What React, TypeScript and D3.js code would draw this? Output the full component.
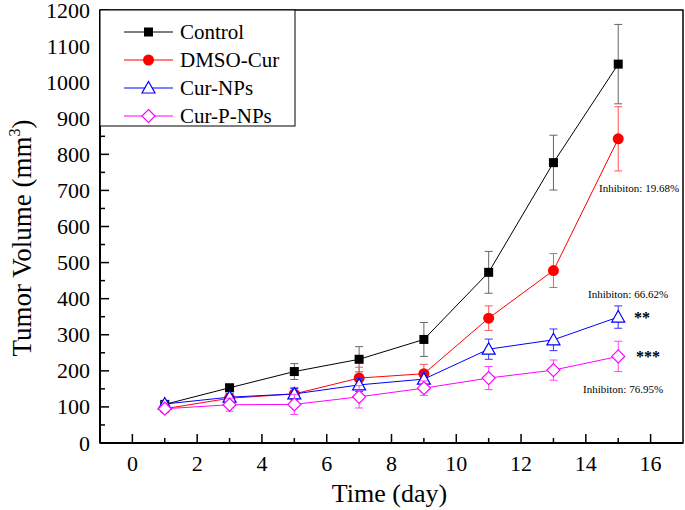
import React, { useEffect, useRef } from 'react';
import * as d3 from 'd3';

const days = [1, 3, 5, 7, 9, 11, 13, 15];
const controlVals = [107, 153, 198, 232, 287, 473, 777, 1050];
const controlErr = [8, 10, 22, 35, 47, 58, 76, 110];
const dmsoVals = [95, 124, 136, 180, 192, 346, 478, 843];
const dmsoErr = [8, 10, 18, 30, 26, 34, 47, 89];
const npsVals = [108, 127, 136, 161, 177, 260, 286, 349];
const npsErr = [8, 10, 15, 18, 20, 28, 30, 31];
const pnpsVals = [95, 106, 107, 128, 152, 180, 202, 240];
const pnpsErr = [8, 18, 28, 31, 20, 32, 28, 42];
const seriesNames = ['Control', 'DMSO-Cur', 'Cur-NPs', 'Cur-P-NPs'];
const xTicks = [0, 2, 4, 6, 8, 10, 12, 14, 16];
const yTicks = [0, 100, 200, 300, 400, 500, 600, 700, 800, 900, 1000, 1100, 1200];

const W = 685;
const H = 510;
const FONT = '"Liberation Serif", "Times New Roman", serif';

const App = () => {
  const ref = useRef<SVGSVGElement>(null);

  useEffect(() => {
    const svg = d3.select(ref.current);
    svg.selectAll('*').remove();

    const left = 100, right = 683, top = 10, bottom = 443;
    const x = d3.scaleLinear().domain([-1, 17]).range([left, right]);
    const y = d3.scaleLinear().domain([0, 1200]).range([bottom, top]);

    const series = [
      { name: seriesNames[0], vals: controlVals, err: controlErr, color: '#000000', errColor: '#666666', shape: 'square' },
      { name: seriesNames[1], vals: dmsoVals, err: dmsoErr, color: '#ff0000', errColor: '#ff5555', shape: 'circle' },
      { name: seriesNames[2], vals: npsVals, err: npsErr, color: '#0000ff', errColor: '#3333ff', shape: 'triangle' },
      { name: seriesNames[3], vals: pnpsVals, err: pnpsErr, color: '#ff00ff', errColor: '#ff44ff', shape: 'diamond' },
    ];

    // frame
    svg.append('rect')
      .attr('x', left).attr('y', top)
      .attr('width', right - left).attr('height', bottom - top)
      .attr('fill', 'none').attr('stroke', '#000').attr('stroke-width', 1.5);
    svg.append('line').attr('x1', left).attr('x2', right).attr('y1', bottom).attr('y2', bottom)
      .attr('stroke', '#000').attr('stroke-width', 2);
    svg.append('line').attr('x1', left).attr('x2', left).attr('y1', top).attr('y2', bottom)
      .attr('stroke', '#000').attr('stroke-width', 2);

    // x ticks (inward)
    const xMinor = d3.range(0, 17, 1);
    svg.selectAll('.xt').data(xMinor).join('line')
      .attr('x1', d => x(d)).attr('x2', d => x(d))
      .attr('y1', bottom).attr('y2', d => bottom - (d % 2 === 0 ? 9 : 5))
      .attr('stroke', '#000').attr('stroke-width', 1.5);
    svg.selectAll('.xl').data(xTicks).join('text')
      .attr('x', d => x(d)).attr('y', 471)
      .attr('text-anchor', 'middle')
      .attr('font-family', FONT).attr('font-size', 22)
      .text(d => d);

    // y ticks (inward)
    const yMinor = d3.range(0, 1201, 50);
    svg.selectAll('.yt').data(yMinor).join('line')
      .attr('x1', left).attr('x2', d => left + (d % 100 === 0 ? 9 : 5))
      .attr('y1', d => y(d)).attr('y2', d => y(d))
      .attr('stroke', '#000').attr('stroke-width', 1.5);
    svg.selectAll('.yl').data(yTicks).join('text')
      .attr('x', 90).attr('y', d => y(d) + 7.5)
      .attr('text-anchor', 'end')
      .attr('font-family', FONT).attr('font-size', 22)
      .text(d => d);

    // axis titles
    svg.append('text')
      .attr('x', (left + right) / 2 - 2).attr('y', 502)
      .attr('text-anchor', 'middle')
      .attr('font-family', FONT).attr('font-size', 26)
      .text('Time (day)');
    const yt = svg.append('text')
      .attr('transform', 'translate(31,238) rotate(-90)')
      .attr('text-anchor', 'middle')
      .attr('font-family', FONT).attr('font-size', 27);
    yt.append('tspan').text('Tumor Volume (mm');
    yt.append('tspan').attr('dy', -11).attr('font-size', 16).text('3');
    yt.append('tspan').attr('dy', 11).text(')');

    const drawMarker = (g, shape, cx, cy, color) => {
      if (shape === 'square') {
        g.append('rect').attr('x', cx - 4.5).attr('y', cy - 4.5).attr('width', 9).attr('height', 9)
          .attr('fill', color);
      } else if (shape === 'circle') {
        g.append('circle').attr('cx', cx).attr('cy', cy).attr('r', 5.5).attr('fill', color);
      } else if (shape === 'triangle') {
        g.append('path')
          .attr('d', `M${cx},${cy - 6.5}L${cx + 6.5},${cy + 5}L${cx - 6.5},${cy + 5}Z`)
          .attr('fill', '#fff').attr('stroke', color).attr('stroke-width', 1.2);
      } else {
        g.append('path')
          .attr('d', `M${cx},${cy - 6.5}L${cx + 6.5},${cy}L${cx},${cy + 6.5}L${cx - 6.5},${cy}Z`)
          .attr('fill', '#fff').attr('stroke', color).attr('stroke-width', 1.2);
      }
    };

    const line = d3.line<number>().x((d, i) => x(days[i])).y(d => y(d));

    series.forEach(s => {
      const g = svg.append('g');
      g.append('path').attr('d', line(s.vals)).attr('fill', 'none')
        .attr('stroke', s.color).attr('stroke-width', 1);
      s.vals.forEach((v, i) => {
        const cx = x(days[i]);
        const y1 = y(v + s.err[i]);
        const y2 = y(v - s.err[i]);
        g.append('line').attr('x1', cx).attr('x2', cx).attr('y1', y1).attr('y2', y2)
          .attr('stroke', s.errColor).attr('stroke-width', 1);
        [y1, y2].forEach(yy => {
          g.append('line').attr('x1', cx - 4).attr('x2', cx + 4).attr('y1', yy).attr('y2', yy)
            .attr('stroke', s.errColor).attr('stroke-width', 1);
        });
        drawMarker(g, s.shape, cx, y(v), s.color);
      });
    });

    // annotations
    const notes = [
      { text: 'Inhibiton: 19.68%', x: 599, y: 192 },
      { text: 'Inhibiton: 66.62%', x: 588, y: 298 },
      { text: 'Inhibiton: 76.95%', x: 583, y: 393 },
    ];
    svg.selectAll('.note').data(notes).join('text')
      .attr('x', d => d.x).attr('y', d => d.y)
      .attr('font-family', FONT).attr('font-size', 11)
      .text(d => d.text);
    svg.append('text').attr('x', 634).attr('y', 323)
      .attr('font-family', FONT).attr('font-size', 16).attr('font-weight', 'bold').text('**');
    svg.append('text').attr('x', 636).attr('y', 362)
      .attr('font-family', FONT).attr('font-size', 16).attr('font-weight', 'bold').text('***');

    // legend
    const lg = svg.append('g');
    lg.append('rect').attr('x', left).attr('y', top).attr('width', 195).attr('height', 116)
      .attr('fill', '#fff').attr('stroke', '#000').attr('stroke-width', 1);
    series.forEach((s, i) => {
      const ly = 32 + i * 28;
      lg.append('line').attr('x1', 124).attr('x2', 173).attr('y1', ly).attr('y2', ly)
        .attr('stroke', s.color).attr('stroke-width', 1);
      drawMarker(lg, s.shape, 148.5, ly, s.color);
      lg.append('text').attr('x', 180).attr('y', ly + 7)
        .attr('font-family', FONT).attr('font-size', 21)
        .text(s.name);
    });
  }, []);

  return (
    <svg ref={ref} width={W} height={H}
      style={{ position: 'absolute', left: 0, top: 0, background: '#fff' }} />
  );
};

export default App;
